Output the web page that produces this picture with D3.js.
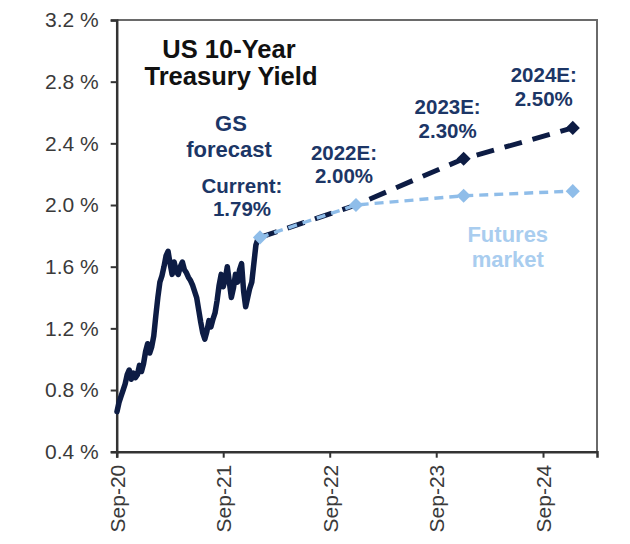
<!DOCTYPE html>
<html>
<head>
<meta charset="utf-8">
<script src="https://cdn.jsdelivr.net/npm/d3@7"></script>
<style>
  html, body { margin: 0; padding: 0; background: #fff; }
  svg { display: block; font-family: "Liberation Sans", Arial, sans-serif; }
</style>
</head>
<body>
<svg id="chart" width="630" height="544"></svg>
<script>
// ---------- DATA ----------
const histDates = [
  "2020-09-02","2020-09-09","2020-09-16","2020-09-23","2020-09-30",
  "2020-10-07","2020-10-14","2020-10-21","2020-10-28",
  "2020-11-04","2020-11-11","2020-11-18","2020-11-25",
  "2020-12-02","2020-12-09","2020-12-16","2020-12-23","2020-12-30",
  "2021-01-06","2021-01-13","2021-01-20","2021-01-27",
  "2021-02-03","2021-02-10","2021-02-17","2021-02-24",
  "2021-03-03","2021-03-10","2021-03-17","2021-03-24","2021-03-31",
  "2021-04-07","2021-04-14","2021-04-21","2021-04-28",
  "2021-05-05","2021-05-12","2021-05-19","2021-05-26",
  "2021-06-02","2021-06-09","2021-06-16","2021-06-23","2021-06-30",
  "2021-07-07","2021-07-14","2021-07-21","2021-07-28",
  "2021-08-04","2021-08-11","2021-08-18","2021-08-25",
  "2021-09-01","2021-09-08","2021-09-15","2021-09-22","2021-09-29",
  "2021-10-06","2021-10-13","2021-10-20","2021-10-27",
  "2021-11-03","2021-11-10","2021-11-17","2021-11-24",
  "2021-12-01","2021-12-08","2021-12-15","2021-12-22","2021-12-29",
  "2022-01-05"
];
const histValues = [
  0.66, 0.72, 0.76, 0.80, 0.84,
  0.90, 0.93, 0.87, 0.91,
  0.88, 0.90, 0.96, 0.92,
  0.97, 1.05, 1.10, 1.04, 1.08,
  1.15, 1.28, 1.40, 1.50,
  1.54, 1.60, 1.67, 1.70,
  1.62, 1.55, 1.63, 1.57, 1.55,
  1.60, 1.63, 1.58, 1.56,
  1.53, 1.51, 1.48, 1.44,
  1.40, 1.32, 1.24, 1.17, 1.13,
  1.18, 1.25, 1.21, 1.26,
  1.30, 1.38, 1.48, 1.55,
  1.47, 1.52, 1.60, 1.50, 1.40,
  1.46, 1.55, 1.50, 1.58,
  1.62, 1.44, 1.34, 1.40,
  1.46, 1.50, 1.62, 1.74, 1.78,
  1.79
];
const forecastDates   = ["2022-01-05", "2022-11-30", "2023-12-04", "2024-12-12"];
const gsForecast      = [1.79, 2.00, 2.30, 2.50];
const futuresForecast = [1.79, 2.00, 2.06, 2.09];
const forecastLabels  = [["Current:", "1.79%"], ["2022E:", "2.00%"], ["2023E:", "2.30%"], ["2024E:", "2.50%"]];
const yTicks = [0.4, 0.8, 1.2, 1.6, 2.0, 2.4, 2.8, 3.2];
const xTickDates  = ["2020-09-01", "2021-09-01", "2022-09-01", "2023-09-01", "2024-09-01"];
const xTickLabels = ["Sep-20", "Sep-21", "Sep-22", "Sep-23", "Sep-24"];
const xDomain = ["2020-09-01", "2025-03-05"];
const yDomain = [0.4, 3.2];

// ---------- SETUP ----------
const parse = d3.timeParse("%Y-%m-%d");
const W = 630, H = 544;
const m = { left: 116.7, right: 33, top: 20, bottom: 92.3 };
const svg = d3.select("#chart");
svg.append("rect").attr("width", W).attr("height", H).attr("fill", "#fff");

const x = d3.scaleTime().domain(xDomain.map(parse)).range([m.left, W - m.right]);
const y = d3.scaleLinear().domain(yDomain).range([H - m.bottom, m.top]);

const NAVY = "#0d1c44";
const LIGHT = "#8fbde9";
const LABEL = "#1c3666";

// frame (top & right)
svg.append("path")
  .attr("d", `M${x.range()[0]},${y.range()[1]} H${x.range()[1]} V${y.range()[0]}`)
  .attr("fill", "none").attr("stroke", "#6a6a6a").attr("stroke-width", 2);

// y axis
const yAxis = d3.axisLeft(y).tickValues(yTicks).tickSize(6).tickPadding(12)
  .tickFormat(d => d3.format(".1f")(d) + " %");
const gy = svg.append("g").attr("transform", `translate(${m.left},0)`).call(yAxis);
gy.select(".domain").attr("stroke", "#333").attr("stroke-width", 2.5);
gy.selectAll(".tick line").attr("stroke", "#333").attr("stroke-width", 2);
gy.selectAll(".tick text").attr("fill", "#3a3a3a").attr("font-size", 21)
  .attr("font-family", "'Liberation Sans', Arial, sans-serif");

// x axis
const xAxis = d3.axisBottom(x).tickValues(xTickDates.map(parse)).tickSize(6)
  .tickFormat((d, i) => xTickLabels[i]);
const gx = svg.append("g").attr("transform", `translate(0,${H - m.bottom})`).call(xAxis);
gx.select(".domain").attr("stroke", "#333").attr("stroke-width", 2.5);
gx.selectAll(".tick line").attr("stroke", "#333").attr("stroke-width", 2);
gx.selectAll(".tick text")
  .attr("fill", "#3a3a3a").attr("font-size", 21)
  .attr("font-family", "'Liberation Sans', Arial, sans-serif")
  .attr("text-anchor", "end")
  .attr("transform", "rotate(-90)")
  .attr("x", -13).attr("y", 0).attr("dy", "0.35em");

// historical line
const hist = histDates.map((d, i) => ({ date: parse(d), v: histValues[i] }));
const line = d3.line().x(d => x(d.date)).y(d => y(d.v));
svg.append("path").datum(hist).attr("d", line)
  .attr("fill", "none").attr("stroke", NAVY).attr("stroke-width", 5.5)
  .attr("stroke-linejoin", "round").attr("stroke-linecap", "round");

// forecasts
const gs = forecastDates.map((d, i) => ({ date: parse(d), v: gsForecast[i] }));
const fut = forecastDates.map((d, i) => ({ date: parse(d), v: futuresForecast[i] }));

svg.append("path").datum(gs).attr("d", line)
  .attr("fill", "none").attr("stroke", NAVY).attr("stroke-width", 5)
  .attr("stroke-dasharray", "18,11");
const diamond = d3.symbol().type(d3.symbolSquare).size(100);
svg.selectAll(".gsPt").data(gs.slice(2)).enter().append("path")
  .attr("d", diamond())
  .attr("transform", d => `translate(${x(d.date)},${y(d.v)}) rotate(45)`)
  .attr("fill", NAVY);

svg.append("path").datum(fut).attr("d", line)
  .attr("fill", "none").attr("stroke", LIGHT).attr("stroke-width", 3.4)
  .attr("stroke-dasharray", "9,6");
svg.selectAll(".futPt").data(fut).enter().append("path")
  .attr("d", diamond())
  .attr("transform", d => `translate(${x(d.date)},${y(d.v)}) rotate(45)`)
  .attr("fill", LIGHT);

// ---------- TEXT ----------
const txt = (xx, yy, s, size, color, weight) => svg.append("text")
  .attr("x", xx).attr("y", yy).attr("text-anchor", "middle")
  .attr("font-size", size).attr("font-weight", weight || "bold")
  .attr("fill", color).text(s);

txt(229, 58, "US 10-Year", 25.5, "#111");
txt(231, 85, "Treasury Yield", 25.5, "#111");
txt(231, 131, "GS", 22, LABEL);
txt(229, 157, "forecast", 22, LABEL);

const labelOffsets = [[-18, -44, -21], [-12, -45, -22], [-16, -45, -21], [-29, -46, -22]];
gs.forEach((d, i) => {
  const px = x(d.date), py = y(d.v);
  const [dx, dy1, dy2] = labelOffsets[i];
  txt(px + dx, py + dy1, forecastLabels[i][0], 20.5, LABEL);
  txt(px + dx, py + dy2, forecastLabels[i][1], 20.5, LABEL);
});

const lastFut = fut[fut.length - 1];
txt(x(lastFut.date) - 65, y(lastFut.v) + 51, "Futures", 22, "#a9cdef");
txt(x(lastFut.date) - 65, y(lastFut.v) + 76, "market", 22, "#a9cdef");
</script>
</body>
</html>
